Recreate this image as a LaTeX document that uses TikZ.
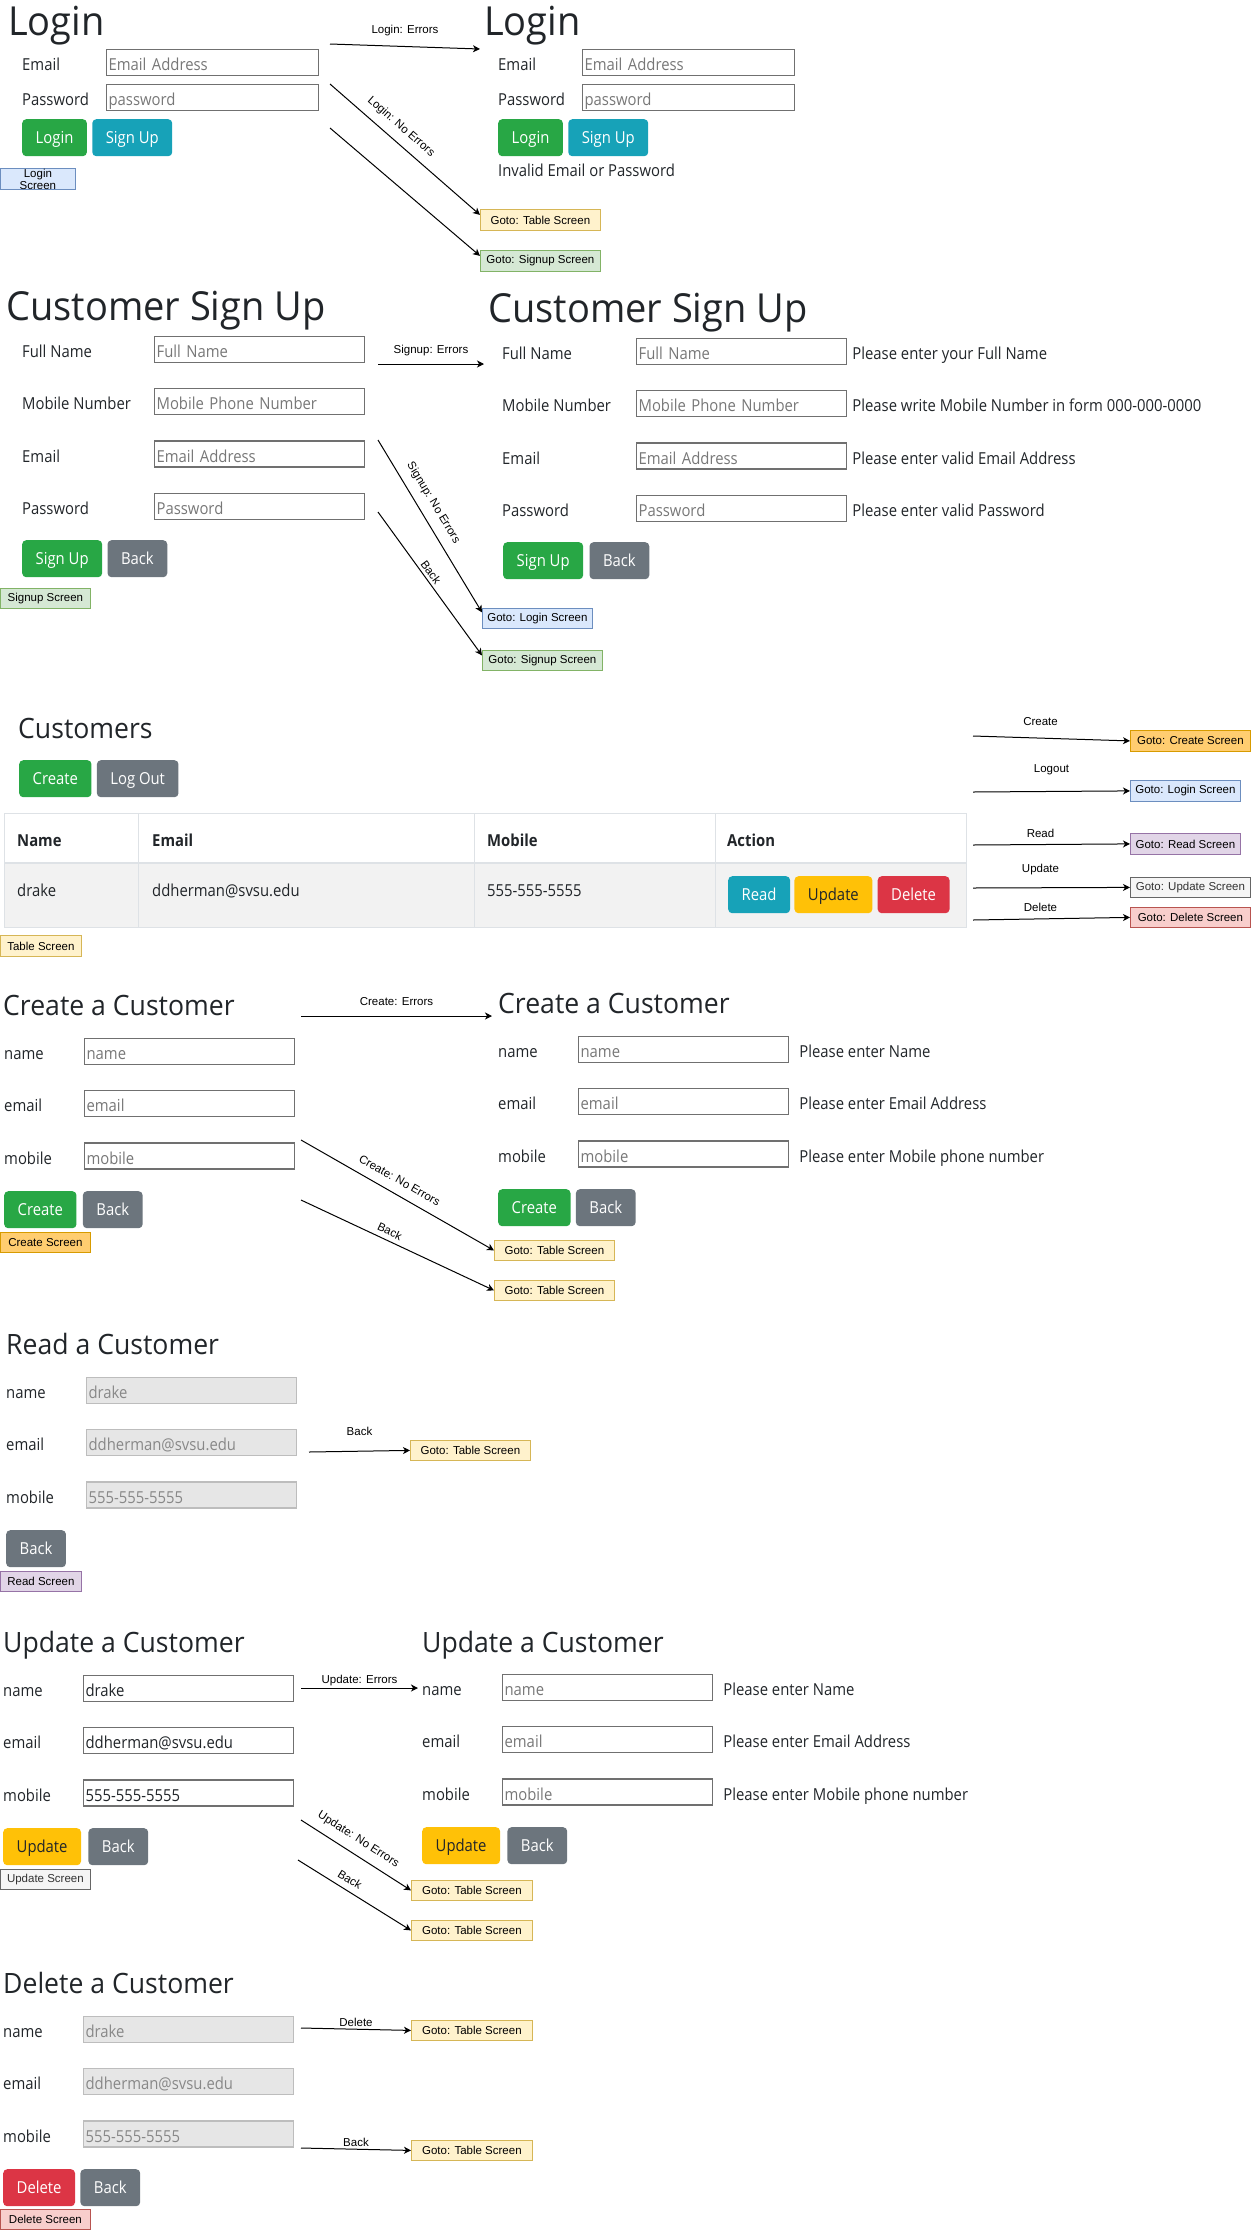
\documentclass[tikz,border=0pt]{standalone}
\usepackage{fontspec}
\setmainfont[FakeStretch=0.9]{Open Sans}
\newfontfamily\headfamily[FakeStretch=0.95]{Open Sans}
\newfontfamily\drawiofont{Liberation Sans}
\usepackage{tikz}
\usetikzlibrary{positioning,arrows.meta}
\definecolor{ink}{HTML}{212529}
\definecolor{hint}{HTML}{777777}
\definecolor{fieldline}{HTML}{707070}
\definecolor{dimfill}{HTML}{E6E6E6}
\definecolor{dimline}{HTML}{BDBDBD}
\definecolor{dimtext}{HTML}{888888}
\definecolor{okgreen}{HTML}{28A745}
\definecolor{infoteal}{HTML}{17A2B8}
\definecolor{backgray}{HTML}{6C757D}
\definecolor{warnyellow}{HTML}{FFC107}
\definecolor{dangerred}{HTML}{DC3545}
\definecolor{tblline}{HTML}{DEE2E6}
\definecolor{tblrow}{HTML}{F2F2F2}
\newcommand\formfont{\fontsize{16.5pt}{20pt}\selectfont}
\newcommand\headfont{\headfamily\fontsize{40pt}{48pt}\selectfont}
\newcommand\subheadfont{\headfamily\fontsize{28pt}{34pt}\selectfont}
\newcommand\tagfont{\drawiofont\fontsize{11.5pt}{12pt}\selectfont}
\tikzset{
    >={Stealth[length=7pt,width=7pt,inset=2pt]},
    heading/.style={anchor=base west, inner sep=0pt, text=ink, font=\headfont},
    subheading/.style={heading, font=\subheadfont},
    lab/.style={
        anchor=west,
        inner sep=0pt,
        text height=16pt, text depth=0pt,
        text=ink,
        font=\formfont
    },
    cell/.style={anchor=base west, inner sep=0pt, text=ink, font=\formfont},
    field/.style={
        draw=fieldline, line width=1.2pt,
        anchor=north west,
        text width=206pt,
        minimum height=26pt,
        inner xsep=2pt, inner ysep=0pt,
        text height=16pt, text depth=0pt,
        align=left,
        text=hint,
        font=\formfont
    },
    dimfield/.style={field, fill=dimfill, draw=dimline, text=dimtext},
    btn/.style={
        rounded corners=4pt,
        fill=#1,
        text=white,
        minimum height=37pt,
        inner xsep=13.5pt, inner ysep=0pt,
        text height=11.8pt, text depth=0pt,
        font=\formfont
    },
    gotobox/.style={
        draw, line width=0.8pt,
        inner sep=0pt,
        minimum height=20pt,
        anchor=north west,
        align=center,
        font=\tagfont
    },
    flow/.style={->, line width=1pt},
    elab/.style={above, inner xsep=0pt, font=\tagfont},
}

\begin{document}
\begin{tikzpicture}
    [
        x=1pt, y=-1pt,
        logincol/.style={fill={rgb,255:red,218;green,232;blue,252}, draw={rgb,255:red,108;green,142;blue,191}},
        tablecol/.style={fill={rgb,255:red,255;green,242;blue,204}, draw={rgb,255:red,214;green,182;blue,86}},
        signupcol/.style={fill={rgb,255:red,213;green,232;blue,212}, draw={rgb,255:red,130;green,179;blue,102}},
        createcol/.style={fill={rgb,255:red,255;green,205;blue,112}, draw={rgb,255:red,215;green,155;blue,0}},
        readcol/.style={fill={rgb,255:red,225;green,213;blue,231}, draw={rgb,255:red,150;green,115;blue,166}},
        updatecol/.style={fill={rgb,255:red,245;green,245;blue,245}, draw={rgb,255:red,102;green,102;blue,102}, text={rgb,255:red,51;green,51;blue,51}},
        deletecol/.style={fill={rgb,255:red,248;green,206;blue,204}, draw={rgb,255:red,184;green,84;blue,80}},
    ]
    \useasboundingbox (0,0) rectangle (1251,2230);

    \node(lhead)[heading] at (8,35) {Login};
    \node(lmail)[field, text width=208pt] at (106,49) {Email Address};
    \node(lpass)[field, text width=208pt, below=8pt of lmail] {password};
    \node(lmaillab)[lab] at (22,0 |- lmail) {Email};
    \node(lpasslab)[lab] at (22,0 |- lpass) {Password};
    \node(lbtn)[btn=okgreen, anchor=north west] at (22,119) {Login};
    \node(lsign)[btn=infoteal, right=5pt of lbtn] {Sign Up};
    \node(ltag)[gotobox, logincol, minimum width=75pt, minimum height=21pt] at (0,168) {Login\\Screen};

    \node(rhead)[heading] at (484,35) {Login};
    \node(rmail)[field, text width=208pt] at (582,49) {Email Address};
    \node(rpass)[field, text width=208pt, below=8pt of rmail] {password};
    \node(rmaillab)[lab] at (498,0 |- rmail) {Email};
    \node(rpasslab)[lab] at (498,0 |- rpass) {Password};
    \node(rbtn)[btn=okgreen, anchor=north west] at (498,119) {Login};
    \node(rsign)[btn=infoteal, right=5pt of rbtn] {Sign Up};
    \node(rmsg)[lab] at (498,168) {Invalid Email or Password};

    \coordinate (lerr) at (330,44);
    \coordinate (lerrend) at (480,49);
    \coordinate (lok) at (330,84);
    \coordinate (lsg) at (330,128);
    \node(go1)[gotobox, tablecol, minimum width=120pt, minimum height=21pt] at (480,209) {Goto: Table Screen};
    \node(go2)[gotobox, signupcol, minimum width=120pt, minimum height=21pt] at (480,250) {Goto: Signup Screen};
    \draw[flow] (lerr) -- node[elab, inner ysep=10pt]{Login: Errors} (lerrend);
    \draw[flow] (lok) -- node[elab, sloped, pos=.41, inner ysep=8.5pt]{Login: No Errors} ([yshift=5pt]go1.west);
    \draw[flow] (lsg) -- ([yshift=5pt]go2.west);

    \node(chead)[heading] at (6,320) {Customer Sign Up};
    \node(cname)[field] at (154,336) {Full Name};
    \node(cmob)[field, below=25pt of cname] {Mobile Phone Number};
    \node(cmail)[field, below=25pt of cmob] {Email Address};
    \node(cpass)[field, below=25pt of cmail] {Password};
    \node(cnamelab)[lab] at (22,0 |- cname) {Full Name};
    \node(cmoblab)[lab] at (22,0 |- cmob) {Mobile Number};
    \node(cmaillab)[lab] at (22,0 |- cmail) {Email};
    \node(cpasslab)[lab] at (22,0 |- cpass) {Password};
    \node(cbtn)[btn=okgreen, anchor=north west] at (22,540) {Sign Up};
    \node(cback)[btn=backgray, right=5pt of cbtn] {Back};
    \node(ctag)[gotobox, signupcol, minimum width=90pt] at (0,588) {Signup Screen};

    \node(dhead)[heading] at (488,322) {Customer Sign Up};
    \node(dname)[field] at (636,338) {Full Name};
    \node(dmob)[field, below=25pt of dname] {Mobile Phone Number};
    \node(dmail)[field, below=25pt of dmob] {Email Address};
    \node(dpass)[field, below=25pt of dmail] {Password};
    \node(dnamelab)[lab] at (502,0 |- dname) {Full Name};
    \node(dmoblab)[lab] at (502,0 |- dmob) {Mobile Number};
    \node(dmaillab)[lab] at (502,0 |- dmail) {Email};
    \node(dpasslab)[lab] at (502,0 |- dpass) {Password};
    \node(dnamemsg)[lab, right=5pt of dname] {Please enter your Full Name};
    \node(dmobmsg)[lab, right=5pt of dmob] {Please write Mobile Number in form 000-000-0000};
    \node(dmailmsg)[lab, right=5pt of dmail] {Please enter valid Email Address};
    \node(dpassmsg)[lab, right=5pt of dpass] {Please enter valid Password};
    \node(dbtn)[btn=okgreen, anchor=north west] at (503,542) {Sign Up};
    \node(dback)[btn=backgray, right=6pt of dbtn] {Back};

    \coordinate (cerr) at (378,364);
    \coordinate (cerrend) at (484,364);
    \coordinate (cok) at (378,440);
    \coordinate (cbk) at (378,512);
    \node(go3)[gotobox, logincol, minimum width=110pt] at (482,608) {Goto: Login Screen};
    \node(go4)[gotobox, signupcol, minimum width=120pt] at (482,650) {Goto: Signup Screen};
    \draw[flow] (cerr) -- node[elab, inner ysep=8pt]{Signup: Errors} (cerrend);
    \draw[flow] (cok) -- node[elab, sloped, pos=.41, inner ysep=9pt]{Signup: No Errors} ([yshift=6pt]go3.west);
    \draw[flow] (cbk) -- node[elab, sloped, pos=.45, inner ysep=3pt]{Back} ([yshift=5pt]go4.west);

    \node(thead)[subheading] at (18,738) {Customers};
    \node(tcreate)[btn=okgreen, anchor=north west] at (19,760) {Create};
    \node(tlogout)[btn=backgray, right=5pt of tcreate] {Log Out};
    \fill[tblrow] (4,864) rectangle (966,927);
    \draw[tblline, line width=1pt] (4,813) rectangle (966,927);
    \draw[tblline, line width=2.5pt] (4,863) -- (966,863);
    \draw[tblline, line width=1pt] (138,813) -- (138,927) (474,813) -- (474,927) (715,813) -- (715,927);
    \node(hname)[cell, font=\formfont\bfseries] at (17,846) {Name};
    \node(hmail)[cell, font=\formfont\bfseries] at (152,846) {Email};
    \node(hmob)[cell, font=\formfont\bfseries] at (487,846) {Mobile};
    \node(hact)[cell, font=\formfont\bfseries] at (727,846) {Action};
    \node(rowname)[cell] at (17,896) {drake};
    \node(rowmail)[cell] at (152,896) {ddherman@svsu.edu};
    \node(rowmob)[cell] at (487,896) {555-555-5555};
    \node(tread)[btn=infoteal, anchor=north west] at (728,876) {Read};
    \node(tupd)[btn=warnyellow, text=ink, right=4pt of tread] {Update};
    \node(tdel)[btn=dangerred, right=5pt of tupd] {Delete};
    \node(ttag)[gotobox, tablecol, minimum width=81pt, minimum height=21pt] at (0,935) {Table Screen};

    \coordinate (tc) at (973,736);
    \coordinate (tl) at (973,792);
    \coordinate (tr) at (973,845);
    \coordinate (tu) at (973,888);
    \coordinate (td) at (973,920);
    \node(go5)[gotobox, createcol, minimum width=120pt, minimum height=21pt] at (1130,730) {Goto: Create Screen};
    \node(go6)[gotobox, logincol, minimum width=110pt, minimum height=21pt] at (1130,780) {Goto: Login Screen};
    \node(go7)[gotobox, readcol, minimum width=110pt, minimum height=21pt] at (1130,833) {Goto: Read Screen};
    \node(go8)[gotobox, updatecol, minimum width=120pt] at (1130,877) {Goto: Update Screen};
    \node(go9)[gotobox, deletecol, minimum width=120pt] at (1130,907) {Goto: Delete Screen};
    \draw[flow] (tc) -- node[elab, pos=.43, inner ysep=12pt]{Create} (go5.west);
    \draw[flow] (tl) -- node[elab, inner ysep=16pt]{Logout} (go6.west);
    \draw[flow] (tr) -- node[elab, pos=.43, inner ysep=6pt]{Read} (go7.west);
    \draw[flow] (tu) -- node[elab, pos=.43, inner ysep=12pt]{Update} (go8.west);
    \draw[flow] (td) -- node[elab, pos=.43, inner ysep=7pt]{Delete} (go9.west);

    \node(ehead)[subheading] at (3,1015) {Create a Customer};
    \node(ename)[field] at (84,1038) {name};
    \node(email)[field, below=25pt of ename] {email};
    \node(emob)[field, below=25pt of email] {mobile};
    \node(enamelab)[lab] at (4,0 |- ename) {name};
    \node(emaillab)[lab] at (4,0 |- email) {email};
    \node(emoblab)[lab] at (4,0 |- emob) {mobile};
    \node(ecreate)[btn=okgreen, anchor=north west] at (4,1191) {Create};
    \node(eback)[btn=backgray, right=6pt of ecreate] {Back};
    \node(etag)[gotobox, createcol, minimum width=90pt] at (0,1232) {Create Screen};

    \node(fhead)[subheading] at (498,1013) {Create a Customer};
    \node(fname)[field] at (578,1036) {name};
    \node(fmail)[field, below=25pt of fname] {email};
    \node(fmob)[field, below=25pt of fmail] {mobile};
    \node(fnamelab)[lab] at (498,0 |- fname) {name};
    \node(fmaillab)[lab] at (498,0 |- fmail) {email};
    \node(fmoblab)[lab] at (498,0 |- fmob) {mobile};
    \node(fnamemsg)[lab, right=10pt of fname] {Please enter Name};
    \node(fmailmsg)[lab, right=10pt of fmail] {Please enter Email Address};
    \node(fmobmsg)[lab, right=10pt of fmob] {Please enter Mobile phone number};
    \node(fcreate)[btn=okgreen, anchor=north west] at (498,1189) {Create};
    \node(fback)[btn=backgray, right=5pt of fcreate] {Back};

    \coordinate (eerr) at (301,1016);
    \coordinate (eerrend) at (492,1016);
    \coordinate (eok) at (301,1140);
    \coordinate (ebk) at (301,1200);
    \node(go10)[gotobox, tablecol, minimum width=120pt] at (494,1240) {Goto: Table Screen};
    \node(go11)[gotobox, tablecol, minimum width=120pt] at (494,1280) {Goto: Table Screen};
    \draw[flow] (eerr) -- node[elab, inner ysep=10pt]{Create: Errors} (eerrend);
    \draw[flow] (eok) -- node[elab, sloped, pos=.475, inner ysep=9.5pt]{Create: No Errors} (go10.west);
    \draw[flow] (ebk) -- node[elab, sloped, pos=.44, inner ysep=4.5pt]{Back} (go11.west);

    \node(rdhead)[subheading] at (6,1354) {Read a Customer};
    \node(rdname)[dimfield] at (86,1377) {drake};
    \node(rdmail)[dimfield, below=25pt of rdname] {ddherman@svsu.edu};
    \node(rdmob)[dimfield, below=25pt of rdmail] {555-555-5555};
    \node(rdnamelab)[lab] at (6,0 |- rdname) {name};
    \node(rdmaillab)[lab] at (6,0 |- rdmail) {email};
    \node(rdmoblab)[lab] at (6,0 |- rdmob) {mobile};
    \node(rdback)[btn=backgray, anchor=north west] at (6,1530) {Back};
    \node(rdtag)[gotobox, readcol, minimum width=81pt] at (0,1571) {Read Screen};
    \coordinate (rdbk) at (309,1452);
    \node(go12)[gotobox, tablecol, minimum width=120pt] at (410,1440) {Goto: Table Screen};
    \draw[flow] (rdbk) -- node[elab, inner ysep=15pt]{Back} (go12.west);

    \node(uhead)[subheading] at (3,1652) {Update a Customer};
    \node(uname)[field, text=ink] at (83,1675) {drake};
    \node(umail)[field, text=ink, below=25pt of uname] {ddherman@svsu.edu};
    \node(umob)[field, text=ink, below=25pt of umail] {555-555-5555};
    \node(unamelab)[lab] at (3,0 |- uname) {name};
    \node(umaillab)[lab] at (3,0 |- umail) {email};
    \node(umoblab)[lab] at (3,0 |- umob) {mobile};
    \node(uupd)[btn=warnyellow, text=ink, anchor=north west] at (3,1828) {Update};
    \node(uback)[btn=backgray, right=7pt of uupd] {Back};
    \node(utag)[gotobox, updatecol, minimum width=90pt] at (0,1869) {Update Screen};

    \node(vhead)[subheading] at (422,1652) {Update a Customer};
    \node(vname)[field] at (502,1674) {name};
    \node(vmail)[field, below=25pt of vname] {email};
    \node(vmob)[field, below=25pt of vmail] {mobile};
    \node(vnamelab)[lab] at (422,0 |- vname) {name};
    \node(vmaillab)[lab] at (422,0 |- vmail) {email};
    \node(vmoblab)[lab] at (422,0 |- vmob) {mobile};
    \node(vnamemsg)[lab, right=10pt of vname] {Please enter Name};
    \node(vmailmsg)[lab, right=10pt of vmail] {Please enter Email Address};
    \node(vmobmsg)[lab, right=10pt of vmob] {Please enter Mobile phone number};
    \node(vupd)[btn=warnyellow, text=ink, anchor=north west] at (422,1827) {Update};
    \node(vback)[btn=backgray, right=7pt of vupd] {Back};

    \coordinate (uerr) at (301,1688);
    \coordinate (uerrend) at (418,1688);
    \coordinate (uok) at (301,1820);
    \coordinate (ubk) at (298,1860);
    \node(go13)[gotobox, tablecol, minimum width=121pt] at (411,1880) {Goto: Table Screen};
    \node(go14)[gotobox, tablecol, minimum width=121pt] at (411,1920) {Goto: Table Screen};
    \draw[flow] (uerr) -- node[elab, inner ysep=2pt]{Update: Errors} (uerrend);
    \draw[flow] (uok) -- node[elab, sloped, pos=.45, inner ysep=8.5pt]{Update: No Errors} (go13.west);
    \draw[flow] (ubk) -- node[elab, sloped, pos=.41, inner ysep=6pt]{Back} (go14.west);

    \node(xhead)[subheading] at (3,1993) {Delete a Customer};
    \node(xname)[dimfield] at (83,2016) {drake};
    \node(xmail)[dimfield, below=25pt of xname] {ddherman@svsu.edu};
    \node(xmob)[dimfield, below=25pt of xmail] {555-555-5555};
    \node(xnamelab)[lab] at (3,0 |- xname) {name};
    \node(xmaillab)[lab] at (3,0 |- xmail) {email};
    \node(xmoblab)[lab] at (3,0 |- xmob) {mobile};
    \node(xdel)[btn=dangerred, anchor=north west] at (3,2169) {Delete};
    \node(xback)[btn=backgray, right=5pt of xdel] {Back};
    \node(xtag)[gotobox, deletecol, minimum width=90pt] at (0,2209) {Delete Screen};
    \coordinate (xdl) at (301,2028);
    \coordinate (xbk) at (301,2148);
    \node(go15)[gotobox, tablecol, minimum width=121pt] at (411,2020) {Goto: Table Screen};
    \node(go16)[gotobox, tablecol, minimum width=121pt] at (411,2140) {Goto: Table Screen};
    \draw[flow] (xdl) -- node[elab, inner ysep=2pt]{Delete} (go15.west);
    \draw[flow] (xbk) -- node[elab, inner ysep=2pt]{Back} (go16.west);
\end{tikzpicture}
\end{document}
